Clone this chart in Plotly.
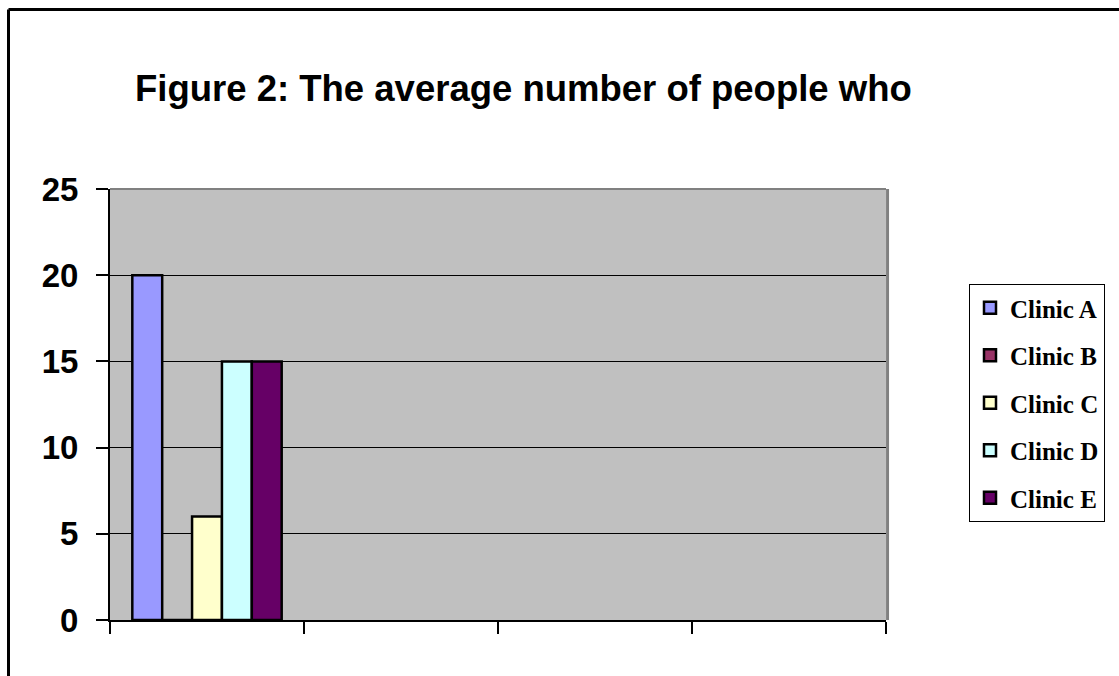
import plotly.graph_objects as go

# ---- data ----
category_positions = [0, 1, 2, 3]
category_labels = ["", "", "", ""]
clinic_names = ["Clinic A", "Clinic B", "Clinic C", "Clinic D", "Clinic E"]
clinic_a = [20, None, None, None]
clinic_b = [0, None, None, None]
clinic_c = [6, None, None, None]
clinic_d = [15, None, None, None]
clinic_e = [15, None, None, None]
y_ticks = [0, 5, 10, 15, 20, 25]
title_text = "Figure 2: The average number of people who"

series = [clinic_a, clinic_b, clinic_c, clinic_d, clinic_e]
colors = ["#9999FF", "#993366", "#FFFFCC", "#CCFFFF", "#660066"]

fig = go.Figure()
for name, vals, col in zip(clinic_names, series, colors):
    fig.add_trace(go.Bar(
        x=category_positions, y=vals, name=name, legendgroup=name,
        marker=dict(color=col, line=dict(color="black", width=2.5)),
    ))

W, H = 1119, 676
L, R, T, B = 110, 886, 189, 620
pw, ph = R - L, B - T

def px(x):
    return (x - L) / pw

def py(y):
    return (B - y) / ph

fig.update_layout(
    width=W, height=H,
    margin=dict(l=L, r=W - R, t=T, b=H - B),
    paper_bgcolor="white", plot_bgcolor="#C0C0C0",
    barmode="group", bargap=0.23, bargroupgap=0,
    title=dict(text=title_text, x=135 / W, xanchor="left", xref="container",
               y=1 - 88 / H, yanchor="middle", yref="container",
               font=dict(family="Liberation Sans, Arial", size=36.5, color="black", weight="bold")),
    legend=dict(x=px(969), xanchor="left", y=py(284), yanchor="top",
                bgcolor="white", bordercolor="black", borderwidth=1,
                font=dict(family="Liberation Serif, Times New Roman", size=25, color="black", weight="bold"),
                tracegroupgap=12, itemwidth=30, traceorder="grouped"),
    showlegend=True,
    xaxis=dict(range=[-0.5, 3.5], tickmode="array",
               tickvals=[p - 0.5 for p in category_positions] + [category_positions[-1] + 0.5],
               ticktext=category_labels + [""],
               ticks="outside", ticklen=12, tickwidth=2, tickcolor="black",
               showgrid=False, zeroline=False, showline=True, linecolor="black", linewidth=2),
    yaxis=dict(range=[0, 25], tickmode="array", tickvals=y_ticks,
               ticks="outside", ticklen=12, tickwidth=2, tickcolor="black",
               ticklabelstandoff=11,
               tickfont=dict(family="Liberation Sans, Arial", size=33, color="black", weight="bold"),
               showgrid=True, gridcolor="black", gridwidth=1,
               zeroline=False, showline=True, linecolor="black", linewidth=2),
    shapes=[
        # plot area grey border (top & right)
        dict(type="line", xref="paper", yref="paper", x0=0, x1=1, y0=1, y1=1,
             line=dict(color="#808080", width=2), layer="above"),
        dict(type="line", xref="paper", yref="paper", x0=1.002, x1=1.002, y0=0, y1=1,
             line=dict(color="#808080", width=3), layer="above"),
        # outer chart border (top & left)
        dict(type="line", xref="paper", yref="paper", x0=px(8.5), x1=px(1125), y0=py(9.5), y1=py(9.5),
             line=dict(color="black", width=3)),
        dict(type="line", xref="paper", yref="paper", x0=px(8.5), x1=px(8.5), y0=py(9.5), y1=py(690),
             line=dict(color="black", width=3)),
    ],
)

fig.write_html("out.html")
